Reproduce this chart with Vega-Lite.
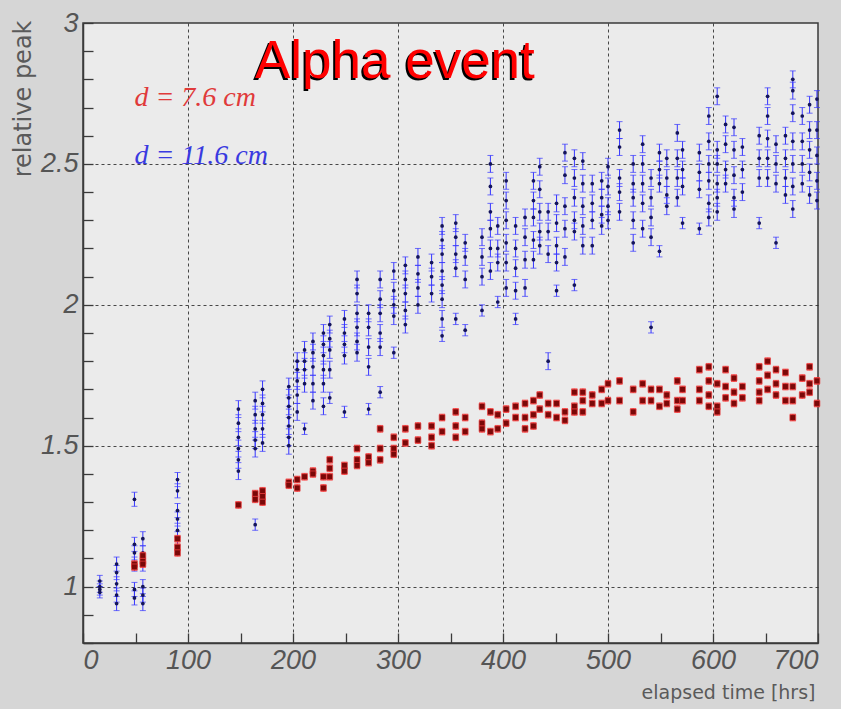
{
  "$schema": "https://vega.github.io/schema/vega-lite/v6.json",
  "width": 735,
  "height": 620,
  "autosize": {"type": "none"},
  "padding": {"left": 83, "top": 23, "right": 23, "bottom": 66},
  "background": "#d6d6d6",
  "config": {
    "view": {"fill": "#ebebeb", "stroke": "#3a3a3a", "strokeWidth": 1.5},
    "axis": {
      "domainColor": "#3a3a3a",
      "domainWidth": 1.5,
      "tickColor": "#3a3a3a",
      "tickWidth": 1.3,
      "gridColor": "#2a2a2a",
      "gridDash": [3, 3],
      "gridWidth": 1,
      "labelFont": "Liberation Sans",
      "labelFontStyle": "italic",
      "labelFontSize": 27,
      "labelColor": "#555555",
      "titleFont": "DejaVu Sans",
      "titleFontWeight": "normal",
      "titleColor": "#5a5a5a"
    }
  },
  "datasets": {
    "d116": [
      {"t":16,"v":1.02,"e":0.02},{"t":16,"v":1.0,"e":0.02},{"t":16,"v":0.99,"e":0.02},{"t":16,"v":0.98,"e":0.02},
      {"t":32,"v":1.08,"e":0.025},{"t":32,"v":1.05,"e":0.025},{"t":32,"v":1.01,"e":0.025},{"t":32,"v":0.97,"e":0.025},{"t":32,"v":0.94,"e":0.025},
      {"t":49,"v":1.31,"e":0.025},{"t":49,"v":1.15,"e":0.025},{"t":49,"v":1.12,"e":0.025},{"t":49,"v":1.08,"e":0.025},{"t":49,"v":0.99,"e":0.025},{"t":49,"v":0.96,"e":0.025},
      {"t":57,"v":1.17,"e":0.025},{"t":57,"v":1.12,"e":0.025},{"t":57,"v":1.08,"e":0.025},{"t":57,"v":1.0,"e":0.025},{"t":57,"v":0.97,"e":0.025},{"t":57,"v":0.94,"e":0.025},
      {"t":90,"v":1.38,"e":0.025},{"t":90,"v":1.34,"e":0.025},{"t":90,"v":1.27,"e":0.025},{"t":90,"v":1.24,"e":0.025},{"t":90,"v":1.2,"e":0.025},{"t":90,"v":1.17,"e":0.025},
      {"t":148,"v":1.63,"e":0.03},{"t":148,"v":1.58,"e":0.03},{"t":148,"v":1.53,"e":0.03},{"t":148,"v":1.49,"e":0.03},{"t":148,"v":1.45,"e":0.03},{"t":148,"v":1.41,"e":0.03},
      {"t":164,"v":1.66,"e":0.03},{"t":164,"v":1.61,"e":0.03},{"t":164,"v":1.56,"e":0.03},{"t":164,"v":1.52,"e":0.03},{"t":164,"v":1.49,"e":0.03},{"t":164,"v":1.22,"e":0.02},
      {"t":171,"v":1.7,"e":0.03},{"t":171,"v":1.65,"e":0.03},{"t":171,"v":1.61,"e":0.03},{"t":171,"v":1.56,"e":0.03},{"t":171,"v":1.51,"e":0.03},
      {"t":196,"v":1.71,"e":0.03},{"t":196,"v":1.67,"e":0.03},{"t":196,"v":1.64,"e":0.03},{"t":196,"v":1.6,"e":0.03},{"t":196,"v":1.57,"e":0.03},{"t":196,"v":1.53,"e":0.03},{"t":196,"v":1.5,"e":0.03},
      {"t":204,"v":1.8,"e":0.03},{"t":204,"v":1.77,"e":0.03},{"t":204,"v":1.73,"e":0.03},{"t":204,"v":1.68,"e":0.03},{"t":204,"v":1.62,"e":0.03},
      {"t":211,"v":1.84,"e":0.03},{"t":211,"v":1.8,"e":0.03},{"t":211,"v":1.77,"e":0.03},{"t":211,"v":1.72,"e":0.03},{"t":211,"v":1.56,"e":0.02},
      {"t":219,"v":1.87,"e":0.03},{"t":219,"v":1.83,"e":0.03},{"t":219,"v":1.78,"e":0.03},{"t":219,"v":1.72,"e":0.03},{"t":219,"v":1.66,"e":0.03},
      {"t":229,"v":1.9,"e":0.03},{"t":229,"v":1.86,"e":0.03},{"t":229,"v":1.82,"e":0.03},{"t":229,"v":1.77,"e":0.03},{"t":229,"v":1.72,"e":0.03},{"t":229,"v":1.64,"e":0.03},
      {"t":235,"v":1.93,"e":0.03},{"t":235,"v":1.88,"e":0.03},{"t":235,"v":1.84,"e":0.03},{"t":235,"v":1.77,"e":0.03},{"t":235,"v":1.67,"e":0.02},
      {"t":249,"v":1.95,"e":0.03},{"t":249,"v":1.9,"e":0.03},{"t":249,"v":1.86,"e":0.03},{"t":249,"v":1.82,"e":0.03},{"t":249,"v":1.62,"e":0.02},
      {"t":261,"v":2.09,"e":0.03},{"t":261,"v":2.04,"e":0.03},{"t":261,"v":1.97,"e":0.03},{"t":261,"v":1.92,"e":0.03},{"t":261,"v":1.87,"e":0.03},{"t":261,"v":1.83,"e":0.03},
      {"t":272,"v":1.97,"e":0.03},{"t":272,"v":1.92,"e":0.03},{"t":272,"v":1.85,"e":0.03},{"t":272,"v":1.78,"e":0.03},{"t":272,"v":1.63,"e":0.02},
      {"t":283,"v":2.09,"e":0.03},{"t":283,"v":2.02,"e":0.03},{"t":283,"v":1.97,"e":0.03},{"t":283,"v":1.9,"e":0.03},{"t":283,"v":1.85,"e":0.03},{"t":283,"v":1.69,"e":0.02},
      {"t":296,"v":2.12,"e":0.03},{"t":296,"v":2.05,"e":0.03},{"t":296,"v":2.0,"e":0.03},{"t":296,"v":1.96,"e":0.03},{"t":296,"v":1.83,"e":0.02},
      {"t":307,"v":2.14,"e":0.03},{"t":307,"v":2.09,"e":0.03},{"t":307,"v":2.04,"e":0.03},{"t":307,"v":1.98,"e":0.03},{"t":307,"v":1.93,"e":0.03},
      {"t":319,"v":2.17,"e":0.03},{"t":319,"v":2.11,"e":0.03},{"t":319,"v":2.06,"e":0.03},{"t":319,"v":2.0,"e":0.03},
      {"t":332,"v":2.15,"e":0.03},{"t":332,"v":2.1,"e":0.03},{"t":332,"v":2.04,"e":0.03},
      {"t":342,"v":2.28,"e":0.03},{"t":342,"v":2.23,"e":0.03},{"t":342,"v":2.18,"e":0.03},{"t":342,"v":2.12,"e":0.03},{"t":342,"v":2.07,"e":0.03},{"t":342,"v":2.02,"e":0.03},{"t":342,"v":1.95,"e":0.03},{"t":342,"v":1.89,"e":0.02},
      {"t":355,"v":2.29,"e":0.03},{"t":355,"v":2.24,"e":0.03},{"t":355,"v":2.18,"e":0.03},{"t":355,"v":2.13,"e":0.03},{"t":355,"v":1.95,"e":0.02},
      {"t":364,"v":2.22,"e":0.03},{"t":364,"v":2.17,"e":0.03},{"t":364,"v":2.09,"e":0.03},{"t":364,"v":1.91,"e":0.02},
      {"t":380,"v":2.24,"e":0.03},{"t":380,"v":2.17,"e":0.03},{"t":380,"v":2.1,"e":0.03},{"t":380,"v":1.98,"e":0.02},
      {"t":388,"v":2.5,"e":0.03},{"t":388,"v":2.42,"e":0.03},{"t":388,"v":2.33,"e":0.03},{"t":388,"v":2.27,"e":0.03},{"t":388,"v":2.2,"e":0.03},{"t":388,"v":2.12,"e":0.03},
      {"t":395,"v":2.28,"e":0.03},{"t":395,"v":2.2,"e":0.03},{"t":395,"v":2.15,"e":0.03},{"t":395,"v":2.01,"e":0.02},
      {"t":403,"v":2.44,"e":0.03},{"t":403,"v":2.37,"e":0.03},{"t":403,"v":2.3,"e":0.03},{"t":403,"v":2.22,"e":0.03},{"t":403,"v":2.15,"e":0.03},{"t":403,"v":2.06,"e":0.03},
      {"t":412,"v":2.28,"e":0.03},{"t":412,"v":2.2,"e":0.03},{"t":412,"v":2.13,"e":0.03},{"t":412,"v":2.05,"e":0.03},{"t":412,"v":1.95,"e":0.02},
      {"t":421,"v":2.31,"e":0.03},{"t":421,"v":2.24,"e":0.03},{"t":421,"v":2.16,"e":0.03},{"t":421,"v":2.06,"e":0.03},
      {"t":429,"v":2.44,"e":0.03},{"t":429,"v":2.37,"e":0.03},{"t":429,"v":2.31,"e":0.03},{"t":429,"v":2.23,"e":0.03},{"t":429,"v":2.16,"e":0.03},
      {"t":435,"v":2.49,"e":0.03},{"t":435,"v":2.41,"e":0.03},{"t":435,"v":2.33,"e":0.03},{"t":435,"v":2.26,"e":0.03},{"t":435,"v":2.21,"e":0.03},
      {"t":443,"v":2.33,"e":0.03},{"t":443,"v":2.26,"e":0.03},{"t":443,"v":2.18,"e":0.03},{"t":443,"v":1.8,"e":0.03},
      {"t":451,"v":2.36,"e":0.03},{"t":451,"v":2.29,"e":0.03},{"t":451,"v":2.21,"e":0.03},{"t":451,"v":2.15,"e":0.03},{"t":451,"v":2.05,"e":0.02},
      {"t":459,"v":2.54,"e":0.03},{"t":459,"v":2.46,"e":0.03},{"t":459,"v":2.35,"e":0.03},{"t":459,"v":2.27,"e":0.03},{"t":459,"v":2.17,"e":0.03},
      {"t":468,"v":2.52,"e":0.03},{"t":468,"v":2.45,"e":0.03},{"t":468,"v":2.38,"e":0.03},{"t":468,"v":2.3,"e":0.03},{"t":468,"v":2.26,"e":0.03},{"t":468,"v":2.07,"e":0.02},
      {"t":476,"v":2.51,"e":0.03},{"t":476,"v":2.43,"e":0.03},{"t":476,"v":2.35,"e":0.03},{"t":476,"v":2.28,"e":0.03},{"t":476,"v":2.21,"e":0.03},
      {"t":485,"v":2.43,"e":0.03},{"t":485,"v":2.36,"e":0.03},{"t":485,"v":2.3,"e":0.03},{"t":485,"v":2.21,"e":0.03},
      {"t":494,"v":2.44,"e":0.03},{"t":494,"v":2.38,"e":0.03},{"t":494,"v":2.32,"e":0.03},{"t":494,"v":2.28,"e":0.03},
      {"t":500,"v":2.49,"e":0.03},{"t":500,"v":2.42,"e":0.03},{"t":500,"v":2.35,"e":0.03},{"t":500,"v":2.3,"e":0.03},
      {"t":511,"v":2.62,"e":0.03},{"t":511,"v":2.56,"e":0.03},{"t":511,"v":2.45,"e":0.03},{"t":511,"v":2.4,"e":0.03},{"t":511,"v":2.33,"e":0.03},
      {"t":524,"v":2.5,"e":0.03},{"t":524,"v":2.43,"e":0.03},{"t":524,"v":2.38,"e":0.03},{"t":524,"v":2.3,"e":0.03},{"t":524,"v":2.22,"e":0.03},
      {"t":533,"v":2.57,"e":0.03},{"t":533,"v":2.5,"e":0.03},{"t":533,"v":2.43,"e":0.03},{"t":533,"v":2.36,"e":0.03},{"t":533,"v":2.27,"e":0.03},
      {"t":541,"v":2.45,"e":0.03},{"t":541,"v":2.38,"e":0.03},{"t":541,"v":2.31,"e":0.03},{"t":541,"v":2.24,"e":0.03},{"t":541,"v":1.92,"e":0.02},
      {"t":549,"v":2.54,"e":0.03},{"t":549,"v":2.48,"e":0.03},{"t":549,"v":2.43,"e":0.03},{"t":549,"v":2.19,"e":0.02},
      {"t":556,"v":2.52,"e":0.03},{"t":556,"v":2.45,"e":0.03},{"t":556,"v":2.39,"e":0.03},{"t":556,"v":2.35,"e":0.03},
      {"t":566,"v":2.61,"e":0.03},{"t":566,"v":2.52,"e":0.03},{"t":566,"v":2.45,"e":0.03},{"t":566,"v":2.38,"e":0.03},
      {"t":571,"v":2.55,"e":0.03},{"t":571,"v":2.48,"e":0.03},{"t":571,"v":2.42,"e":0.03},{"t":571,"v":2.29,"e":0.02},
      {"t":587,"v":2.54,"e":0.03},{"t":587,"v":2.47,"e":0.03},{"t":587,"v":2.41,"e":0.03},{"t":587,"v":2.27,"e":0.02},
      {"t":596,"v":2.67,"e":0.03},{"t":596,"v":2.58,"e":0.03},{"t":596,"v":2.5,"e":0.03},{"t":596,"v":2.44,"e":0.03},{"t":596,"v":2.36,"e":0.03},{"t":596,"v":2.31,"e":0.03},
      {"t":604,"v":2.74,"e":0.03},{"t":604,"v":2.55,"e":0.03},{"t":604,"v":2.5,"e":0.03},{"t":604,"v":2.43,"e":0.03},{"t":604,"v":2.38,"e":0.03},{"t":604,"v":2.33,"e":0.03},
      {"t":612,"v":2.64,"e":0.03},{"t":612,"v":2.57,"e":0.03},{"t":612,"v":2.48,"e":0.03},{"t":612,"v":2.43,"e":0.03},
      {"t":620,"v":2.63,"e":0.03},{"t":620,"v":2.55,"e":0.03},{"t":620,"v":2.46,"e":0.03},{"t":620,"v":2.38,"e":0.03},{"t":620,"v":2.34,"e":0.03},
      {"t":628,"v":2.56,"e":0.03},{"t":628,"v":2.48,"e":0.03},{"t":628,"v":2.4,"e":0.03},
      {"t":644,"v":2.6,"e":0.03},{"t":644,"v":2.52,"e":0.03},{"t":644,"v":2.45,"e":0.03},{"t":644,"v":2.29,"e":0.02},
      {"t":652,"v":2.74,"e":0.03},{"t":652,"v":2.67,"e":0.03},{"t":652,"v":2.59,"e":0.03},{"t":652,"v":2.52,"e":0.03},{"t":652,"v":2.45,"e":0.03},
      {"t":660,"v":2.57,"e":0.03},{"t":660,"v":2.5,"e":0.03},{"t":660,"v":2.43,"e":0.03},{"t":660,"v":2.22,"e":0.02},
      {"t":669,"v":2.6,"e":0.03},{"t":669,"v":2.52,"e":0.03},{"t":669,"v":2.45,"e":0.03},{"t":669,"v":2.39,"e":0.03},
      {"t":676,"v":2.8,"e":0.03},{"t":676,"v":2.76,"e":0.03},{"t":676,"v":2.68,"e":0.03},{"t":676,"v":2.58,"e":0.03},{"t":676,"v":2.5,"e":0.03},{"t":676,"v":2.42,"e":0.03},{"t":676,"v":2.34,"e":0.03},
      {"t":685,"v":2.67,"e":0.03},{"t":685,"v":2.58,"e":0.03},{"t":685,"v":2.5,"e":0.03},{"t":685,"v":2.43,"e":0.03},
      {"t":692,"v":2.71,"e":0.03},{"t":692,"v":2.62,"e":0.03},{"t":692,"v":2.55,"e":0.03},{"t":692,"v":2.47,"e":0.03},{"t":692,"v":2.39,"e":0.03},
      {"t":699,"v":2.73,"e":0.03},{"t":699,"v":2.62,"e":0.03},{"t":699,"v":2.53,"e":0.03},{"t":699,"v":2.44,"e":0.03},{"t":699,"v":2.37,"e":0.03}
    ],
    "d76": [
      {"t":49,"v":1.08,"e":0.012},{"t":49,"v":1.07,"e":0.012},
      {"t":57,"v":1.11,"e":0.012},{"t":57,"v":1.09,"e":0.012},{"t":57,"v":1.08,"e":0.012},
      {"t":90,"v":1.17,"e":0.012},{"t":90,"v":1.14,"e":0.012},{"t":90,"v":1.12,"e":0.012},
      {"t":148,"v":1.29,"e":0.012},
      {"t":164,"v":1.33,"e":0.012},{"t":164,"v":1.31,"e":0.012},
      {"t":171,"v":1.34,"e":0.012},{"t":171,"v":1.32,"e":0.012},{"t":171,"v":1.3,"e":0.012},
      {"t":196,"v":1.37,"e":0.012},{"t":196,"v":1.36,"e":0.012},
      {"t":204,"v":1.35,"e":0.012},{"t":204,"v":1.38,"e":0.012},
      {"t":211,"v":1.39,"e":0.012},
      {"t":219,"v":1.41,"e":0.012},{"t":219,"v":1.4,"e":0.012},
      {"t":229,"v":1.39,"e":0.012},{"t":229,"v":1.35,"e":0.012},
      {"t":235,"v":1.45,"e":0.012},{"t":235,"v":1.42,"e":0.012},{"t":235,"v":1.39,"e":0.012},
      {"t":249,"v":1.43,"e":0.012},{"t":249,"v":1.41,"e":0.012},
      {"t":261,"v":1.49,"e":0.012},{"t":261,"v":1.45,"e":0.012},{"t":261,"v":1.43,"e":0.012},
      {"t":272,"v":1.46,"e":0.012},{"t":272,"v":1.44,"e":0.012},
      {"t":283,"v":1.56,"e":0.012},{"t":283,"v":1.49,"e":0.012},{"t":283,"v":1.45,"e":0.012},
      {"t":296,"v":1.53,"e":0.012},{"t":296,"v":1.49,"e":0.012},{"t":296,"v":1.47,"e":0.012},
      {"t":307,"v":1.56,"e":0.012},{"t":307,"v":1.51,"e":0.012},
      {"t":319,"v":1.57,"e":0.012},{"t":319,"v":1.52,"e":0.012},
      {"t":332,"v":1.57,"e":0.012},{"t":332,"v":1.53,"e":0.012},{"t":332,"v":1.5,"e":0.012},
      {"t":342,"v":1.6,"e":0.012},{"t":342,"v":1.55,"e":0.012},
      {"t":355,"v":1.62,"e":0.012},{"t":355,"v":1.57,"e":0.012},{"t":355,"v":1.53,"e":0.012},
      {"t":364,"v":1.6,"e":0.012},{"t":364,"v":1.55,"e":0.012},
      {"t":380,"v":1.64,"e":0.012},{"t":380,"v":1.58,"e":0.012},{"t":380,"v":1.56,"e":0.012},
      {"t":388,"v":1.62,"e":0.012},{"t":388,"v":1.55,"e":0.012},
      {"t":395,"v":1.61,"e":0.012},{"t":395,"v":1.56,"e":0.012},
      {"t":403,"v":1.63,"e":0.012},{"t":403,"v":1.58,"e":0.012},
      {"t":412,"v":1.64,"e":0.012},{"t":412,"v":1.6,"e":0.012},
      {"t":421,"v":1.65,"e":0.012},{"t":421,"v":1.6,"e":0.012},{"t":421,"v":1.56,"e":0.012},
      {"t":429,"v":1.66,"e":0.012},{"t":429,"v":1.61,"e":0.012},{"t":429,"v":1.57,"e":0.012},
      {"t":435,"v":1.68,"e":0.012},{"t":435,"v":1.63,"e":0.012},
      {"t":443,"v":1.65,"e":0.012},{"t":443,"v":1.61,"e":0.012},
      {"t":451,"v":1.65,"e":0.012},{"t":451,"v":1.6,"e":0.012},
      {"t":459,"v":1.62,"e":0.012},{"t":459,"v":1.59,"e":0.012},
      {"t":468,"v":1.69,"e":0.012},{"t":468,"v":1.64,"e":0.012},{"t":468,"v":1.62,"e":0.012},
      {"t":476,"v":1.69,"e":0.012},{"t":476,"v":1.66,"e":0.012},{"t":476,"v":1.62,"e":0.012},
      {"t":485,"v":1.68,"e":0.012},{"t":485,"v":1.65,"e":0.012},
      {"t":494,"v":1.7,"e":0.012},{"t":494,"v":1.65,"e":0.012},
      {"t":500,"v":1.72,"e":0.012},{"t":500,"v":1.66,"e":0.012},
      {"t":511,"v":1.73,"e":0.012},{"t":511,"v":1.66,"e":0.012},
      {"t":524,"v":1.7,"e":0.012},{"t":524,"v":1.62,"e":0.012},
      {"t":533,"v":1.72,"e":0.012},{"t":533,"v":1.66,"e":0.012},
      {"t":541,"v":1.7,"e":0.012},{"t":541,"v":1.66,"e":0.012},
      {"t":549,"v":1.7,"e":0.012},{"t":549,"v":1.64,"e":0.012},
      {"t":556,"v":1.68,"e":0.012},{"t":556,"v":1.65,"e":0.012},
      {"t":566,"v":1.73,"e":0.012},{"t":566,"v":1.66,"e":0.012},{"t":566,"v":1.63,"e":0.012},
      {"t":571,"v":1.7,"e":0.012},{"t":571,"v":1.66,"e":0.012},
      {"t":587,"v":1.77,"e":0.012},{"t":587,"v":1.7,"e":0.012},{"t":587,"v":1.66,"e":0.012},
      {"t":596,"v":1.78,"e":0.012},{"t":596,"v":1.73,"e":0.012},{"t":596,"v":1.68,"e":0.012},{"t":596,"v":1.64,"e":0.012},
      {"t":604,"v":1.72,"e":0.012},{"t":604,"v":1.64,"e":0.012},{"t":604,"v":1.62,"e":0.012},
      {"t":612,"v":1.77,"e":0.012},{"t":612,"v":1.71,"e":0.012},{"t":612,"v":1.67,"e":0.012},
      {"t":620,"v":1.74,"e":0.012},{"t":620,"v":1.69,"e":0.012},{"t":620,"v":1.65,"e":0.012},
      {"t":628,"v":1.71,"e":0.012},{"t":628,"v":1.67,"e":0.012},
      {"t":644,"v":1.78,"e":0.012},{"t":644,"v":1.73,"e":0.012},{"t":644,"v":1.69,"e":0.012},{"t":644,"v":1.66,"e":0.012},
      {"t":652,"v":1.8,"e":0.012},{"t":652,"v":1.75,"e":0.012},{"t":652,"v":1.7,"e":0.012},
      {"t":660,"v":1.77,"e":0.012},{"t":660,"v":1.72,"e":0.012},{"t":660,"v":1.68,"e":0.012},
      {"t":669,"v":1.76,"e":0.012},{"t":669,"v":1.71,"e":0.012},{"t":669,"v":1.66,"e":0.012},
      {"t":676,"v":1.71,"e":0.012},{"t":676,"v":1.66,"e":0.012},{"t":676,"v":1.6,"e":0.012},
      {"t":685,"v":1.74,"e":0.012},{"t":685,"v":1.68,"e":0.012},
      {"t":692,"v":1.78,"e":0.012},{"t":692,"v":1.72,"e":0.012},{"t":692,"v":1.69,"e":0.012},
      {"t":699,"v":1.73,"e":0.012},{"t":699,"v":1.65,"e":0.012}
    ],
    "notes": [
      {"t": 297, "v": 2.805, "label": "Alpha event", "kind": "title"},
      {"t": 49, "v": 2.706, "label": "d = 7.6 cm", "kind": "d76"},
      {"t": 49, "v": 2.5, "label": "d = 11.6 cm", "kind": "d116"}
    ]
  },
  "encoding": {
    "x": {
      "field": "t",
      "type": "quantitative",
      "scale": {"domain": [0, 700], "nice": false, "zero": false},
      "axis": {
        "values": [0, 50, 100, 150, 200, 250, 300, 350, 400, 450, 500, 550, 600, 650, 700],
        "labelExpr": "datum.value % 100 === 0 ? format(datum.value, 'd') : ''",
        "labelPadding": 14,
        "labelBaseline": "top",
        "tickSize": -10,
        "grid": true,
        "gridOpacity": {"condition": {"test": "datum.value % 100 === 0 && datum.value > 0 && datum.value < 700", "value": 0.85}, "value": 0},
        "title": "elapsed time [hrs]",
        "titleFontSize": 19,
        "titleAnchor": "end",
        "titleAlign": "right",
        "titleBaseline": "alphabetic",
        "titleX": 732,
        "titleY": 55
      }
    },
    "y": {
      "field": "v",
      "type": "quantitative",
      "scale": {"domain": [0.8, 3], "nice": false, "zero": false},
      "axis": {
        "values": [0.8, 0.9, 1, 1.1, 1.2, 1.3, 1.4, 1.5, 1.6, 1.7, 1.8, 1.9, 2, 2.1, 2.2, 2.3, 2.4, 2.5, 2.6, 2.7, 2.8, 2.9, 3],
        "labelExpr": "abs(datum.value * 2 - round(datum.value * 2)) < 0.001 ? format(datum.value, '~g') : ''",
        "labelPadding": 15,
        "tickSize": -10,
        "grid": true,
        "gridOpacity": {"condition": {"test": "abs(datum.value * 2 - round(datum.value * 2)) < 0.001 && datum.value < 2.99", "value": 0.85}, "value": 0},
        "title": "relative peak",
        "titleFontSize": 24,
        "titleAngle": -90,
        "titleAnchor": "end",
        "titleAlign": "right",
        "titleBaseline": "middle",
        "titleX": -60,
        "titleY": -3
      }
    }
  },
  "layer": [
    {
      "data": {"name": "d116"},
      "mark": {"type": "errorbar", "ticks": {"size": 6, "color": "#3535ff", "thickness": 1}, "rule": {"color": "#3535ff", "strokeWidth": 1}},
      "encoding": {"yError": {"field": "e"}}
    },
    {
      "data": {"name": "d116"},
      "mark": {"type": "point", "shape": "circle", "filled": true, "size": 14, "color": "#14145a", "opacity": 1}
    },
    {
      "data": {"name": "d76"},
      "mark": {"type": "errorbar", "ticks": {"size": 6, "color": "#ff3030", "thickness": 1}, "rule": {"color": "#ff3030", "strokeWidth": 1.5}},
      "encoding": {"yError": {"field": "e"}}
    },
    {
      "data": {"name": "d76"},
      "mark": {"type": "square", "filled": true, "size": 34, "color": "#7a0808", "stroke": "#ee4040", "strokeWidth": 1, "strokeOpacity": 0.7, "opacity": 1}
    },
    {
      "data": {"name": "notes"},
      "transform": [{"filter": "datum.kind === 'title'"}],
      "mark": {"type": "text", "font": "Liberation Sans", "fontSize": 53, "color": "#000000", "align": "center", "baseline": "alphabetic", "dx": -2, "dy": 2},
      "encoding": {"text": {"field": "label"}}
    },
    {
      "data": {"name": "notes"},
      "transform": [{"filter": "datum.kind === 'title'"}],
      "mark": {"type": "text", "font": "Liberation Sans", "fontSize": 53, "color": "#ff0000", "align": "center", "baseline": "alphabetic"},
      "encoding": {"text": {"field": "label"}}
    },
    {
      "data": {"name": "notes"},
      "transform": [{"filter": "datum.kind !== 'title'"}],
      "mark": {"type": "text", "font": "Liberation Serif", "fontStyle": "italic", "fontSize": 28, "align": "left", "baseline": "alphabetic"},
      "encoding": {
        "text": {"field": "label"},
        "color": {"field": "kind", "type": "nominal", "scale": {"domain": ["d76", "d116"], "range": ["#e03a3a", "#3a3ae0"]}, "legend": null}
      }
    }
  ]
}
